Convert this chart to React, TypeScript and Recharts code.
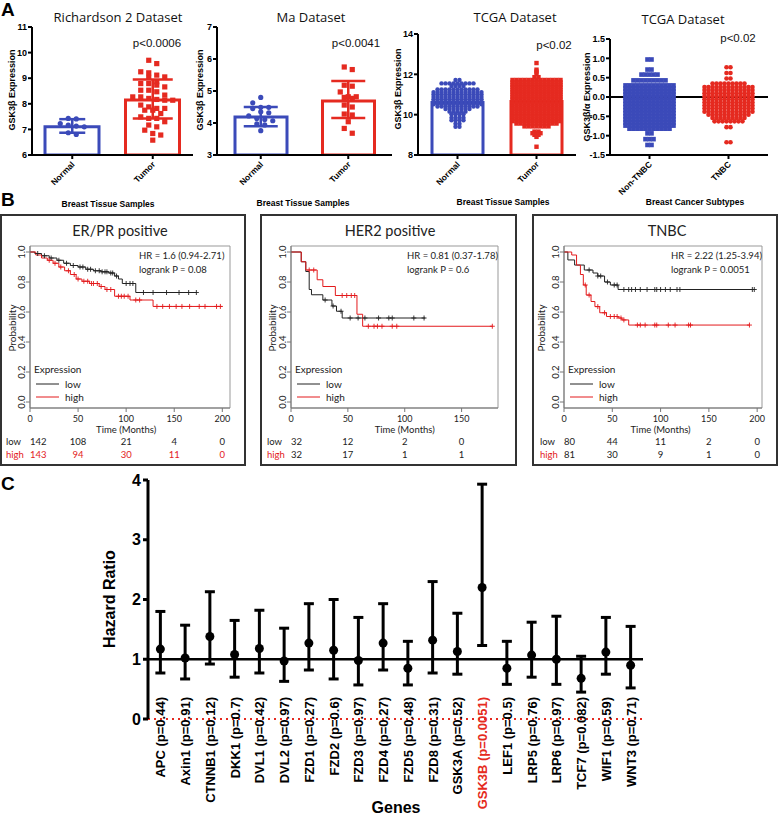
import React from "react";
import {
  ComposedChart,
  Bar,
  Cell,
  Scatter,
  Line,
  ErrorBar,
  XAxis,
  YAxis,
  ReferenceLine,
  ReferenceArea,
} from "recharts";

const BLUE = "#3b4ab9";
const RED = "#e52a20";
const KM_RED = "#e31a1c";
const ARIAL = "'Liberation Sans', Arial, Helvetica, sans-serif";
const LATO = "Lato, 'Open Sans', sans-serif";

// ---------- Panel A data ----------
const tissueGroups = ["Normal", "Tumor"];
const subtypeGroups = ["Non-TNBC", "TNBC"];

const richNormal = [7.43, 7.41, 7.23, 7.17, 7.13, 7.1, 6.87, 6.8];
const richTumor = [
  9.7, 9.57, 9.25, 9.21, 9.12, 9.05, 9.03, 8.86, 8.79, 8.79, 8.73, 8.66, 8.53, 8.53,
  8.47, 8.34, 8.27, 8.27, 8.21, 8.17, 8.14, 8.14, 7.95, 7.88, 7.82, 7.82, 7.75, 7.75,
  7.62, 7.49, 7.43, 7.43, 7.3, 7.17, 7.1, 6.97, 6.84, 6.78, 6.58,
];
const richMean = [7.1, 8.15];
const richLow = [6.87, 7.43];
const richHigh = [7.4, 8.95];

const maNormal = [4.8, 4.63, 4.49, 4.49, 4.45, 4.35, 4.32, 4.22, 4.14, 4.11, 4.07, 3.97, 3.94, 3.76];
const maTumor = [5.75, 5.67, 5.18, 5.15, 4.97, 4.82, 4.82, 4.8, 4.77, 4.56, 4.5, 4.28, 4.25, 4.04, 3.83, 3.68];
const maMean = [4.19, 4.69];
const maLow = [3.9, 4.16];
const maHigh = [4.5, 5.31];

// [value, number of samples on that row]
const tcgaNormalRows: [number, number][] = [
  [11.72, 2], [11.55, 9], [11.42, 4], [11.25, 11], [11.12, 13], [11.0, 13], [10.88, 13],
  [10.76, 13], [10.64, 13], [10.52, 13], [10.4, 11], [10.28, 7], [10.15, 5], [10.02, 4],
  [9.85, 4], [9.72, 4], [9.55, 2], [9.4, 2],
];
const tcgaTumorRows: [number, number][] = [
  [12.56, 1], [12.23, 1], [12.14, 1], [12.03, 1], [11.86, 2], [11.72, 13], [11.6, 13],
  [11.48, 13], [11.36, 13], [11.24, 13], [11.12, 13], [11.0, 13], [10.88, 13], [10.76, 13],
  [10.64, 13], [10.52, 13], [10.4, 13], [10.28, 13], [10.16, 13], [10.04, 13], [9.92, 13],
  [9.8, 13], [9.68, 13], [9.56, 11], [9.42, 7], [9.16, 2], [9.08, 3], [9.0, 2], [8.9, 1],
  [8.41, 1],
];
const tcgaMean = [10.6, 10.65];

const nonTnbcRows: [number, number][] = [
  [0.97, 2], [0.71, 2], [0.58, 5], [0.43, 9], [0.3, 13], [0.22, 13], [0.14, 13], [0.06, 13],
  [-0.02, 13], [-0.1, 13], [-0.18, 13], [-0.26, 13], [-0.34, 13], [-0.42, 13], [-0.5, 13],
  [-0.58, 13], [-0.66, 13], [-0.74, 13], [-0.82, 11], [-0.94, 2], [-1.09, 3], [-1.24, 2],
];
const tnbcRows: [number, number][] = [
  [0.77, 2], [0.62, 2], [0.48, 2], [0.35, 9], [0.26, 13], [0.18, 13], [0.1, 13], [0.02, 13],
  [-0.06, 13], [-0.14, 13], [-0.22, 13], [-0.3, 13], [-0.38, 13], [-0.46, 11], [-0.54, 9],
  [-0.63, 8], [-0.78, 2], [-1.17, 2],
];

// ---------- Panel B data (Kaplan-Meier steps: [months, survival]) ----------
type Step = [number, number];
const erLow: Step[] = [
  [0, 1], [5, 0.99], [12, 0.975], [20, 0.96], [28, 0.945], [35, 0.925], [42, 0.91], [50, 0.9],
  [58, 0.885], [66, 0.875], [74, 0.868], [82, 0.86], [88, 0.84], [92, 0.82], [96, 0.79],
  [110, 0.73], [173, 0.73],
];
const erHigh: Step[] = [
  [0, 1], [6, 0.98], [12, 0.96], [18, 0.945], [24, 0.925], [30, 0.9], [36, 0.875], [42, 0.85],
  [48, 0.82], [54, 0.805], [62, 0.79], [72, 0.77], [78, 0.75], [88, 0.705], [104, 0.68],
  [128, 0.637], [200, 0.637],
];
const erLowCens = [8, 15, 22, 30, 38, 45, 52, 55, 60, 63, 68, 72, 75, 78, 80, 84, 86, 90, 100, 104, 107, 118, 128, 142, 155, 165, 173];
const erHighCens = [20, 26, 32, 40, 46, 50, 56, 60, 64, 66, 70, 74, 80, 84, 92, 95, 98, 102, 110, 114, 132, 138, 145, 152, 158, 166, 176, 182, 194, 198];
const erRiskLow = [142, 108, 21, 4, 0];
const erRiskHigh = [143, 94, 30, 11, 0];

const herLow: Step[] = [
  [0, 1], [9, 0.935], [13, 0.87], [16, 0.75], [18, 0.715], [28, 0.68], [36, 0.64], [40, 0.605],
  [45, 0.56], [118, 0.56],
];
const herHigh: Step[] = [
  [0, 1], [9, 0.935], [13, 0.88], [23, 0.815], [28, 0.77], [39, 0.71], [58, 0.585], [63, 0.505],
  [177, 0.505],
];
const herLowCens = [30, 37, 44, 52, 59, 65, 77, 86, 89, 108, 117];
const herHighCens = [16, 20, 45, 49, 53, 56, 68, 73, 76, 80, 89, 93, 177];
const herRiskLow = [32, 12, 2, 0];
const herRiskHigh = [32, 17, 1, 1];

const tnLow: Step[] = [
  [0, 1], [4, 0.947], [11, 0.913], [21, 0.88], [30, 0.86], [35, 0.84], [42, 0.8], [48, 0.78],
  [56, 0.75], [197, 0.75],
];
const tnHigh: Step[] = [
  [0, 1], [8, 0.98], [13, 0.913], [17, 0.85], [20, 0.78], [23, 0.713], [28, 0.67], [32, 0.636],
  [37, 0.595], [44, 0.57], [56, 0.56], [60, 0.547], [67, 0.513], [192, 0.513],
];
const tnLowCens = [26, 35, 38, 45, 52, 55, 62, 67, 70, 74, 79, 86, 94, 96, 100, 105, 110, 117, 120, 195, 197];
const tnHighCens = [22, 26, 35, 42, 48, 52, 55, 59, 62, 76, 79, 84, 94, 96, 108, 115, 129, 131, 192];
const tnRiskLow = [80, 44, 11, 2, 0];
const tnRiskHigh = [81, 30, 9, 1, 0];

// ---------- Panel C data ----------
const genes = ["APC", "Axin1", "CTNNB1", "DKK1", "DVL1", "DVL2", "FZD1", "FZD2", "FZD3", "FZD4", "FZD5", "FZD8", "GSK3A", "GSK3B", "LEF1", "LRP5", "LRP6", "TCF7", "WIF1", "WNT3"];
const genePValues = ["0.44", "0.91", "0.12", "0.7", "0.42", "0.97", "0.27", "0.6", "0.97", "0.27", "0.48", "0.31", "0.52", "0.0051", "0.5", "0.76", "0.97", "0.082", "0.59", "0.71"];
const hazardRatio = [1.17, 1.02, 1.38, 1.08, 1.18, 0.97, 1.27, 1.15, 0.98, 1.27, 0.85, 1.32, 1.13, 2.2, 0.85, 1.07, 1.0, 0.68, 1.12, 0.9];
const hrLower = [0.77, 0.67, 0.92, 0.7, 0.77, 0.63, 0.82, 0.67, 0.57, 0.82, 0.57, 0.77, 0.75, 1.23, 0.58, 0.7, 0.58, 0.45, 0.75, 0.52];
const hrUpper = [1.8, 1.57, 2.13, 1.65, 1.82, 1.52, 1.93, 2.0, 1.7, 1.93, 1.3, 2.3, 1.77, 3.93, 1.3, 1.62, 1.72, 1.05, 1.7, 1.55];

// ---------- helpers ----------
type Pt = { g: number; v: number; slot: number };

// simple beeswarm: values closer than `bin` share a row and get spread sideways
function swarm(values: number[], g: number, bin: number): Pt[] {
  const sorted = [...values].sort((a, b) => b - a);
  const out: Pt[] = [];
  let i = 0;
  while (i < sorted.length) {
    let j = i;
    while (j < sorted.length && sorted[i] - sorted[j] < bin) j++;
    const n = j - i;
    for (let k = 0; k < n; k++) out.push({ g, v: sorted[i + k], slot: k - (n - 1) / 2 });
    i = j;
  }
  return out;
}

function swarmRows(rows: [number, number][], g: number): Pt[] {
  const out: Pt[] = [];
  rows.forEach(([v, n]) => {
    for (let k = 0; k < n; k++) out.push({ g, v, slot: k - (n - 1) / 2 });
  });
  return out;
}

function makeDot(kind: "circle" | "square", color: string, r: number, gap: number) {
  return (props: any) => {
    const { cx, cy, payload } = props;
    if (cx == null || cy == null) return <g />;
    const x = cx + payload.slot * gap;
    return kind === "square" ? (
      <rect x={x - r} y={cy - r} width={r * 2} height={r * 2} fill={color} />
    ) : (
      <circle cx={x} cy={cy} r={r} fill={color} />
    );
  };
}

const RotTick = (props: any) => {
  const { x, y, payload } = props;
  const ax = x + 3;
  const ay = y + 4;
  return (
    <text x={ax} y={ay} transform={`rotate(-45 ${ax} ${ay})`} textAnchor="end" fontFamily={ARIAL} fontWeight={700} fontSize={8.5} fill="#000">
      {payload.value}
    </text>
  );
};

type DotBarProps = {
  left: number;
  width: number;
  margin: { top: number; right: number; bottom: number; left: number };
  yWidth: number;
  yDomain: [number, number];
  yTicks: number[];
  yDigits: number;
  categories: string[];
  means?: number[];
  lows?: number[];
  highs?: number[];
  caps?: number[];
  barSize?: number;
  groups: Pt[][];
  shapes: ("circle" | "square")[];
  r: number;
  gap: number;
  zeroLine?: boolean;
};

function DotBarPanel(p: DotBarProps) {
  const colors = [BLUE, RED];
  const barData = p.categories.map((name, i) => ({ name, mean: p.means ? p.means[i] : null }));
  return (
    <div style={{ position: "absolute", left: p.left, top: 0 }}>
      <ComposedChart width={p.width} height={200} data={barData} margin={p.margin}>
        <XAxis
          dataKey="name"
          type="category"
          scale="band"
          height={45}
          interval={0}
          axisLine={{ stroke: "#000", strokeWidth: 2 }}
          tickLine={{ stroke: "#000", strokeWidth: 2 }}
          tickSize={4}
          tickMargin={2}
          tick={RotTick}
        />
        <XAxis xAxisId="pos" dataKey="g" type="number" domain={[-0.5, 1.5]} hide />
        <YAxis
          dataKey="v"
          type="number"
          domain={p.yDomain}
          ticks={p.yTicks}
          allowDataOverflow
          width={p.yWidth}
          interval={0}
          axisLine={{ stroke: "#000", strokeWidth: 2 }}
          tickLine={{ stroke: "#000", strokeWidth: 2 }}
          tickSize={4}
          tickMargin={1}
          tickFormatter={(v: number) => v.toFixed(p.yDigits)}
          tick={{ fontFamily: ARIAL, fontWeight: 700, fontSize: 9, fill: "#000" }}
        />
        {p.zeroLine && <ReferenceLine y={0} stroke="#000" strokeWidth={2} />}
        {p.means && (
          <Bar dataKey="mean" barSize={p.barSize} fill="#fff" strokeWidth={3} isAnimationActive={false}>
            {barData.map((d, i) => (
              <Cell key={d.name} stroke={colors[i]} />
            ))}
          </Bar>
        )}
        {p.groups.map((pts, i) => (
          <Scatter
            key={"pts" + i}
            data={pts}
            xAxisId="pos"
            shape={makeDot(p.shapes[i], colors[i], p.r, p.gap)}
            isAnimationActive={false}
          />
        ))}
        {p.means &&
          p.lows &&
          p.highs &&
          p.categories.map((name, i) => (
            <Scatter
              key={"err" + name}
              xAxisId="pos"
              data={[{ g: i, v: p.means![i], err: [p.means![i] - p.lows![i], p.highs![i] - p.means![i]] }]}
              shape={() => <g />}
              isAnimationActive={false}
            >
              <ErrorBar dataKey="err" direction="y" width={p.caps ? p.caps[i] : 10} stroke={colors[i]} strokeWidth={2.5} />
            </Scatter>
          ))}
      </ComposedChart>
    </div>
  );
}

// ---------- Kaplan-Meier ----------
function survivalAt(steps: Step[], t: number) {
  let s = steps[0][1];
  for (const [tt, ss] of steps) if (tt <= t) s = ss;
  return s;
}

const plusShape = (color: string) => (props: any) => {
  const { cx, cy } = props;
  if (cx == null || cy == null) return <g />;
  return (
    <g stroke={color} strokeWidth={0.9}>
      <line x1={cx - 2.5} y1={cy} x2={cx + 2.5} y2={cy} />
      <line x1={cx} y1={cy - 2.5} x2={cx} y2={cy + 2.5} />
    </g>
  );
};

const KmYTick = (props: any) => {
  const { x, y, payload } = props;
  const bx = x - 1.5;
  return (
    <text x={bx} y={y} transform={`rotate(-90 ${bx} ${y})`} textAnchor="middle" fontFamily={LATO} fontSize={9.5} fill="#222">
      {Number(payload.value).toFixed(1)}
    </text>
  );
};

type KMProps = {
  left: number;
  width: number;
  marginLeft: number;
  marginRight: number;
  xMax: number;
  xTicks: number[];
  low: Step[];
  high: Step[];
  lowCens: number[];
  highCens: number[];
  riskLow: number[];
  riskHigh: number[];
  riskHighColor: string;
};

function KMPanel(p: KMProps) {
  const lowData = p.low.map(([t, s]) => ({ t, s }));
  const highData = p.high.map(([t, s]) => ({ t, s }));
  const lowCens = p.lowCens.map((t) => ({ t, s: survivalAt(p.low, t) }));
  const highCens = p.highCens.map((t) => ({ t, s: survivalAt(p.high, t) }));
  const xTick = (props: any) => {
    const { x, y, payload } = props;
    const i = p.xTicks.indexOf(payload.value);
    const first = i === 0;
    return (
      <g fontFamily={LATO} fontSize={9.5}>
        <text x={x} y={y + 9.5} textAnchor="middle" fill="#222" fontSize={9}>
          {payload.value}
        </text>
        {payload.value === 100 && (
          <text x={x} y={y + 21} textAnchor="middle" fill="#222" fontSize={9.5}>
            Time (Months)
          </text>
        )}
        <text x={x} y={y + 33} textAnchor={first ? "start" : "middle"} fill="#222">
          {p.riskLow[i]}
        </text>
        <text x={x} y={y + 46} textAnchor={first ? "start" : "middle"} fill={p.riskHighColor}>
          {p.riskHigh[i]}
        </text>
        {first && (
          <>
            <text x={x - 24} y={y + 33} fill="#222">
              low
            </text>
            <text x={x - 24} y={y + 46} fill={KM_RED}>
              high
            </text>
          </>
        )}
      </g>
    );
  };
  return (
    <div style={{ position: "absolute", left: p.left, top: 215 }}>
      <ComposedChart width={p.width} height={250} margin={{ top: 31, right: p.marginRight, bottom: 2, left: p.marginLeft }}>
        <XAxis
          type="number"
          dataKey="t"
          domain={[0, p.xMax]}
          ticks={p.xTicks}
          interval={0}
          allowDataOverflow
          height={55}
          tickSize={4}
          tickMargin={0}
          axisLine={{ stroke: "#777" }}
          tickLine={{ stroke: "#777" }}
          tick={xTick}
        />
        <YAxis
          type="number"
          dataKey="s"
          domain={[-0.04, 1.04]}
          ticks={[0, 0.2, 0.4, 0.6, 0.8, 1]}
          interval={0}
          allowDataOverflow
          width={22}
          tickSize={4}
          tickMargin={0}
          axisLine={{ stroke: "#777" }}
          tickLine={{ stroke: "#777" }}
          tick={KmYTick}
        />
        <ReferenceArea x1={0} x2={p.xMax} y1={-0.04} y2={1.04} fill="none" stroke="#999" strokeWidth={1} ifOverflow="visible" />
        <Line data={lowData} dataKey="s" type="stepAfter" stroke="#222" strokeWidth={1} dot={false} activeDot={false} isAnimationActive={false} />
        <Line data={highData} dataKey="s" type="stepAfter" stroke={KM_RED} strokeWidth={1} dot={false} activeDot={false} isAnimationActive={false} />
        <Scatter data={lowCens} shape={plusShape("#222")} isAnimationActive={false} />
        <Scatter data={highCens} shape={plusShape(KM_RED)} isAnimationActive={false} />
      </ComposedChart>
    </div>
  );
}

// ---------- Panel C ----------
const GeneTick = (props: any) => {
  const { x, y, payload } = props;
  const red = String(payload.value).startsWith("GSK3B");
  const ax = x + 5;
  const ay = y - 22;
  return (
    <text x={ax} y={ay} transform={`rotate(-90 ${ax} ${ay})`} textAnchor="end" fontFamily={ARIAL} fontWeight={700} fontSize={13} fill={red ? RED : "#000"}>
      {payload.value}
    </text>
  );
};

function HazardPanel() {
  const data = genes.map((g, i) => ({
    label: `${g} (p=${genePValues[i]})`,
    hr: hazardRatio[i],
    err: [hazardRatio[i] - hrLower[i], hrUpper[i] - hazardRatio[i]],
  }));
  return (
    <div style={{ position: "absolute", left: 60, top: 470 }}>
      <ComposedChart width={600} height={346} data={data} margin={{ top: 10, right: 17, bottom: 0, left: 58 }}>
        <XAxis dataKey="label" type="category" scale="band" interval={0} height={97} axisLine={false} tickLine={false} tickSize={0} tickMargin={0} tick={GeneTick} />
        <YAxis
          type="number"
          domain={[0, 4]}
          ticks={[0, 1, 2, 3, 4]}
          interval={0}
          allowDataOverflow
          width={30}
          tickSize={5}
          tickMargin={2}
          axisLine={{ stroke: "#000", strokeWidth: 3 }}
          tickLine={{ stroke: "#000", strokeWidth: 3 }}
          tick={{ fontFamily: ARIAL, fontWeight: 700, fontSize: 16, fill: "#000" }}
        />
        <ReferenceLine y={0} stroke={RED} strokeWidth={2} strokeDasharray="2 4" />
        <ReferenceLine y={1} stroke="#000" strokeWidth={2.5} />
        <Line dataKey="hr" stroke="none" dot={{ r: 4.5, fill: "#000", stroke: "#000", strokeWidth: 0 }} activeDot={false} isAnimationActive={false}>
          <ErrorBar dataKey="err" direction="y" width={5} strokeWidth={3} stroke="#000" />
        </Line>
      </ComposedChart>
    </div>
  );
}

// ---------- static annotations ----------
function KmText({ titleX, title, plotLeft, plotRight, hr, p, probX }: any) {
  return (
    <g fontFamily={LATO} fill="#222">
      <text x={titleX} y={236} textAnchor="middle" fontSize={14.5}>
        {title}
      </text>
      <text x={plotRight - 91} y={259} fontSize={9.5}>
        {hr}
      </text>
      <text x={plotRight - 91} y={273} fontSize={9.5}>
        {p}
      </text>
      <text x={probX} y={328} transform={`rotate(-90 ${probX} 328)`} textAnchor="middle" fontSize={10}>
        Probability
      </text>
      <text x={plotLeft + 4} y={373} fontSize={10}>
        Expression
      </text>
      <line x1={plotLeft + 6} x2={plotLeft + 29} y1={384} y2={384} stroke="#222" strokeWidth={1} />
      <text x={plotLeft + 35} y={387.5} fontSize={10}>
        low
      </text>
      <line x1={plotLeft + 6} x2={plotLeft + 29} y1={397} y2={397} stroke={KM_RED} strokeWidth={1} />
      <text x={plotLeft + 35} y={400.5} fontSize={10}>
        high
      </text>
    </g>
  );
}

function Overlay() {
  const bold = { fontFamily: ARIAL, fontWeight: 700, fill: "#000" } as const;
  const title = { fontFamily: "'Open Sans', Lato, sans-serif", fontSize: 13, fill: "#111", textAnchor: "middle" } as const;
  const pval = { fontFamily: ARIAL, fontSize: 11.5, fill: "#111", textAnchor: "middle" } as const;
  const yl = (x: number, y: number, s: string) => (
    <text x={x} y={y} transform={`rotate(-90 ${x} ${y})`} textAnchor="middle" fontSize={9} {...bold}>
      {s}
    </text>
  );
  return (
    <svg width={778} height={816} style={{ position: "absolute", left: 0, top: 0, pointerEvents: "none" }}>
      <text x={1} y={16} fontSize={19} {...bold}>A</text>
      <text x={1} y={206} fontSize={19} {...bold}>B</text>
      <text x={1} y={490} fontSize={19} {...bold}>C</text>

      <text x={118} y={22} {...title}>Richardson 2 Dataset</text>
      <text x={311} y={22} {...title}>Ma Dataset</text>
      <text x={515} y={22} {...title}>TCGA Dataset</text>
      <text x={683} y={24} {...title}>TCGA Dataset</text>
      <text x={157} y={47} {...pval}>p&lt;0.0006</text>
      <text x={356} y={47} {...pval}>p&lt;0.0041</text>
      <text x={554} y={49} {...pval}>p&lt;0.02</text>
      <text x={738} y={42} {...pval}>p&lt;0.02</text>
      {yl(15, 90, "GSK3β Expression")}
      {yl(203, 90, "GSK3β Expression")}
      {yl(401, 89, "GSK3β Expression")}
      {yl(590, 97, "GSK3β/α Expression")}
      <text x={108} y={207} textAnchor="middle" fontSize={8.5} {...bold}>Breast Tissue Samples</text>
      <text x={303} y={206} textAnchor="middle" fontSize={8.5} {...bold}>Breast Tissue Samples</text>
      <text x={503} y={205} textAnchor="middle" fontSize={8.5} {...bold}>Breast Tissue Samples</text>
      <text x={695} y={205} textAnchor="middle" fontSize={8.5} {...bold}>Breast Cancer Subtypes</text>

      <rect x={1} y={215} width={244} height={250} fill="none" stroke="#333" strokeWidth={2} />
      <rect x={261} y={215} width={255} height={250} fill="none" stroke="#333" strokeWidth={2} />
      <rect x={533} y={215} width={244} height={250} fill="none" stroke="#333" strokeWidth={2} />
      <KmText titleX={120} title="ER/PR positive" plotLeft={30} plotRight={230} hr="HR = 1.6 (0.94-2.71)" p="logrank P = 0.08" probX={16} />
      <KmText titleX={390} title="HER2 positive" plotLeft={291} plotRight={498} hr="HR = 0.81 (0.37-1.78)" p="logrank P = 0.6" probX={276} />
      <KmText titleX={667} title="TNBC" plotLeft={564} plotRight={762} hr="HR = 2.22 (1.25-3.94)" p="logrank P = 0.0051" probX={545} />

      <text x={115} y={599} transform="rotate(-90 115 599)" textAnchor="middle" fontSize={16} {...bold}>Hazard Ratio</text>
      <text x={396} y={813} textAnchor="middle" fontSize={16} {...bold}>Genes</text>
    </svg>
  );
}

export default function App() {
  return (
    <div style={{ position: "absolute", left: 0, top: 0, width: 778, height: 816, background: "#fff", overflow: "hidden" }}>
      <DotBarPanel
        left={0}
        width={200}
        margin={{ top: 27, right: 7, bottom: 0, left: 10 }}
        yWidth={22}
        yDomain={[6, 11]}
        yTicks={[6, 7, 8, 9, 10, 11]}
        yDigits={0}
        categories={tissueGroups}
        means={richMean}
        lows={richLow}
        highs={richHigh}
        caps={[13, 20]}
        barSize={54}
        groups={[swarm(richNormal, 0, 0.15), swarm(richTumor, 1, 0.2)]}
        shapes={["circle", "square"]}
        r={2.6}
        gap={8}
      />
      <DotBarPanel
        left={195}
        width={200}
        margin={{ top: 27, right: 3, bottom: 0, left: 0 }}
        yWidth={22}
        yDomain={[3, 7]}
        yTicks={[3, 4, 5, 6, 7]}
        yDigits={0}
        categories={tissueGroups}
        means={maMean}
        lows={maLow}
        highs={maHigh}
        caps={[17, 17]}
        barSize={52}
        groups={[swarm(maNormal, 0, 0.15), swarm(maTumor, 1, 0.15)]}
        shapes={["circle", "square"]}
        r={2.6}
        gap={8}
      />
      <DotBarPanel
        left={390}
        width={195}
        margin={{ top: 34, right: 9, bottom: 0, left: 6 }}
        yWidth={22}
        yDomain={[8, 14]}
        yTicks={[8, 10, 12, 14]}
        yDigits={0}
        categories={tissueGroups}
        means={tcgaMean}
        barSize={51}
        groups={[swarmRows(tcgaNormalRows, 0), swarmRows(tcgaTumorRows, 1)]}
        shapes={["circle", "square"]}
        r={2.2}
        gap={4}
      />
      <DotBarPanel
        left={580}
        width={198}
        margin={{ top: 39, right: 10, bottom: 0, left: 4 }}
        yWidth={26}
        yDomain={[-1.5, 1.5]}
        yTicks={[-1.5, -1, -0.5, 0, 0.5, 1, 1.5]}
        yDigits={1}
        categories={subtypeGroups}
        groups={[swarmRows(nonTnbcRows, 0), swarmRows(tnbcRows, 1)]}
        shapes={["square", "circle"]}
        r={2.3}
        gap={4}
        zeroLine
      />

      <KMPanel
        left={0}
        width={246}
        marginLeft={8}
        marginRight={16}
        xMax={208}
        xTicks={[0, 50, 100, 150, 200]}
        low={erLow}
        high={erHigh}
        lowCens={erLowCens}
        highCens={erHighCens}
        riskLow={erRiskLow}
        riskHigh={erRiskHigh}
        riskHighColor={KM_RED}
      />
      <KMPanel
        left={260}
        width={258}
        marginLeft={9}
        marginRight={20}
        xMax={182}
        xTicks={[0, 50, 100, 150]}
        low={herLow}
        high={herHigh}
        lowCens={herLowCens}
        highCens={herHighCens}
        riskLow={herRiskLow}
        riskHigh={herRiskHigh}
        riskHighColor="#222"
      />
      <KMPanel
        left={532}
        width={246}
        marginLeft={10}
        marginRight={16}
        xMax={205}
        xTicks={[0, 50, 100, 150, 200]}
        low={tnLow}
        high={tnHigh}
        lowCens={tnLowCens}
        highCens={tnHighCens}
        riskLow={tnRiskLow}
        riskHigh={tnRiskHigh}
        riskHighColor="#222"
      />

      <HazardPanel />
      <Overlay />
    </div>
  );
}
